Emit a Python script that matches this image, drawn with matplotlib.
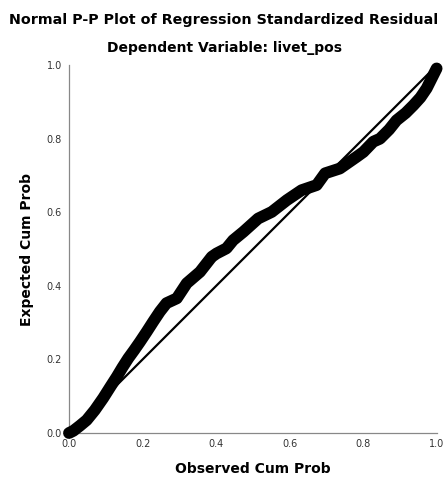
import matplotlib
matplotlib.use("Agg")
import matplotlib.pyplot as plt

# observed vs expected cumulative probability
observed = [0.0, 0.012, 0.03, 0.048, 0.07, 0.093, 0.112, 0.13, 0.145, 0.161, 0.177, 0.193,
            0.211, 0.229, 0.247, 0.265, 0.293, 0.32, 0.356, 0.388, 0.401, 0.428, 0.446,
            0.474, 0.514, 0.551, 0.592, 0.632, 0.673, 0.696, 0.736, 0.782, 0.80, 0.827,
            0.845, 0.87, 0.89, 0.915, 0.936, 0.955, 0.972, 0.999]
expected = [0.0, 0.006, 0.02, 0.035, 0.062, 0.095, 0.125, 0.153, 0.178, 0.203, 0.225, 0.248,
            0.275, 0.303, 0.33, 0.353, 0.366, 0.407, 0.438, 0.479, 0.488, 0.502, 0.524,
            0.547, 0.583, 0.601, 0.633, 0.66, 0.674, 0.706, 0.719, 0.751, 0.764, 0.792,
            0.80, 0.825, 0.85, 0.87, 0.891, 0.912, 0.937, 0.991]

ref_line = [0.0, 1.0]
ticks = [0.0, 0.2, 0.4, 0.6, 0.8, 1.0]
tick_labels = ["0.0", "0.2", "0.4", "0.6", "0.8", "1.0"]

fig = plt.figure(figsize=(4.45, 4.79), dpi=100)
ax = fig.add_axes([0.155, 0.096, 0.827, 0.768])

ax.plot(ref_line, ref_line, color="black", lw=1.6, zorder=2)
ax.plot(observed, expected, color="black", lw=8.5, solid_capstyle="round",
        solid_joinstyle="round", clip_on=False, zorder=3)

ax.set_xlim(0, 1)
ax.set_ylim(0, 1)
ax.set_xticks(ticks)
ax.set_yticks(ticks)
ax.set_xticklabels(tick_labels)
ax.set_yticklabels(tick_labels)
ax.tick_params(length=0, labelsize=7, colors="#333333")
ax.tick_params(axis="x", pad=4)
ax.tick_params(axis="y", pad=5)

for side in ("top", "right"):
    ax.spines[side].set_visible(False)
for side in ("left", "bottom"):
    ax.spines[side].set_color("#888888")
    ax.spines[side].set_linewidth(0.9)

ax.set_xlabel("Observed Cum Prob", fontsize=10, fontweight="bold", labelpad=10)
ax.set_ylabel("Expected Cum Prob", fontsize=10, fontweight="bold", labelpad=9)

fig.text(0.503, 0.958, "Normal P-P Plot of Regression Standardized Residual",
         ha="center", va="center", fontsize=10.3, fontweight="bold")
fig.text(0.505, 0.9, "Dependent Variable: livet_pos",
         ha="center", va="center", fontsize=10.0, fontweight="bold")

fig.savefig("out.png", dpi=100)
